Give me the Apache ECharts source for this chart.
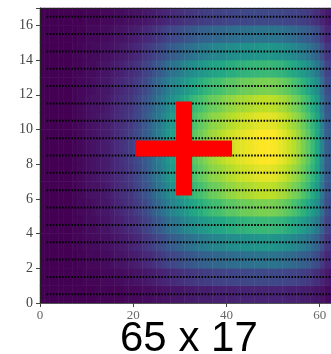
<!DOCTYPE html>
<html>
<head>
<meta charset="utf-8">
<script src="https://cdn.jsdelivr.net/npm/echarts@6/dist/echarts.min.js"></script>
<style>
  html, body { margin: 0; padding: 0; background: #fff; }
  #chart { width: 331px; height: 354px; }
</style>
</head>
<body>
<div id="chart"></div>
<script>
// grid size: 65 columns x 17 rows, values 0..100
const nCols = 65;
const nRows = 17;

// one array per row, bottom row first
const row0 = [0,0,0,0,0,0,0,0,0,0, 0,0,1,1,1,1,1,1,2,2, 2,2,3,3,4,4,5,5,6,6, 6,7,7,8,8,8,8,9,9,9, 9,9,10,10,10,10,10,10,10,10, 10,10,10,9,9,9,8,8,7,6, 5,3,3,3,2];
const row1 = [0,0,0,0,0,0,0,0,0,1, 1,1,1,2,2,2,3,3,4,4, 5,5,6,7,8,9,10,11,12,13, 14,15,16,17,17,18,18,19,19,20, 20,20,21,21,21,22,22,22,22,22, 22,21,21,20,20,19,18,17,15,13, 10,7,6,6,5];
const row2 = [0,0,0,0,0,0,0,0,1,1, 2,2,2,3,3,4,5,5,6,7, 8,9,11,12,14,16,18,20,21,23, 24,26,27,29,30,31,32,33,33,34, 35,35,36,36,37,37,38,38,38,38, 38,37,36,35,34,32,30,29,26,23, 17,11,11,10,9];
const row3 = [0,0,0,0,0,0,0,1,1,2, 2,3,3,4,4,5,6,7,8,9, 11,12,15,17,19,22,24,27,29,31, 33,35,37,39,41,42,44,45,46,47, 48,48,49,50,50,51,51,52,52,52, 51,50,49,48,46,44,42,39,35,31, 24,16,15,14,12];
const row4 = [0,0,0,0,0,0,0,1,1,2, 3,3,4,5,5,7,8,9,11,12, 14,16,19,21,25,28,31,35,38,40, 43,46,48,50,52,54,56,58,59,60, 62,62,64,64,65,66,66,67,67,67, 66,65,64,62,60,57,54,50,46,40, 31,20,19,17,16];
const row5 = [0,0,0,0,0,0,0,1,2,2, 3,4,5,6,6,8,10,11,13,14, 17,19,22,26,30,34,38,42,45,48, 51,54,58,60,62,65,67,69,70,72, 74,74,76,77,78,78,79,80,80,80, 79,78,76,74,71,68,64,60,54,48, 37,24,22,21,19];
const row6 = [0,0,0,0,0,0,0,1,2,3, 4,5,5,6,7,9,11,13,14,16, 19,22,25,29,33,38,42,47,50,54, 58,61,65,68,70,73,76,77,79,81, 83,84,86,86,87,88,89,90,90,90, 89,87,86,83,80,77,72,68,61,54, 41,27,25,23,22];
const row7 = [0,0,0,0,0,0,0,1,2,3, 4,5,6,7,8,10,12,13,15,17, 20,23,27,31,36,40,45,50,54,58, 61,65,69,72,75,78,81,83,84,86, 88,89,91,92,93,94,95,96,96,96, 95,93,91,88,85,82,77,72,65,58, 44,29,27,25,23];
const row8 = [0,0,0,0,0,0,0,1,2,3, 4,5,6,7,8,10,12,14,16,18, 21,24,28,32,37,42,47,52,56,60, 64,68,72,75,78,81,84,86,88,90, 92,93,95,96,97,98,99,100,100,100, 99,97,95,92,89,85,80,75,68,60, 46,30,28,26,24];
const row9 = [0,0,0,0,0,0,0,1,2,3, 4,5,6,7,8,10,12,14,16,18, 21,24,28,32,37,42,47,52,56,60, 64,68,72,75,78,81,84,86,88,90, 92,93,95,96,97,98,99,100,100,100, 99,97,95,92,89,85,80,75,68,60, 46,30,28,26,24];
const row10 = [0,0,0,0,0,0,0,1,2,3, 4,5,6,7,8,10,12,13,15,17, 20,23,27,31,36,40,45,50,54,58, 61,65,69,72,75,78,81,83,84,86, 88,89,91,92,93,94,95,96,96,96, 95,93,91,88,85,82,77,72,65,58, 44,29,27,25,23];
const row11 = [0,0,0,0,0,0,0,1,2,3, 4,5,5,6,7,9,11,13,14,16, 19,22,25,29,33,38,42,47,50,54, 58,61,65,68,70,73,76,77,79,81, 83,84,86,86,87,88,89,90,90,90, 89,87,86,83,80,77,72,68,61,54, 41,27,25,23,22];
const row12 = [0,0,0,0,0,0,0,1,2,2, 3,4,5,6,6,8,10,11,13,14, 17,19,22,26,30,34,38,42,45,48, 51,54,58,60,62,65,67,69,70,72, 74,74,76,77,78,78,79,80,80,80, 79,78,76,74,71,68,64,60,54,48, 37,24,22,21,19];
const row13 = [0,0,0,0,0,0,0,1,1,2, 3,3,4,5,5,7,8,9,11,12, 14,16,19,21,25,28,31,35,38,40, 43,46,48,50,52,54,56,58,59,60, 62,62,64,64,65,66,66,67,67,67, 66,65,64,62,60,57,54,50,46,40, 31,20,19,17,16];
const row14 = [0,0,0,0,0,0,0,1,1,2, 2,3,3,4,4,5,6,7,8,9, 11,12,15,17,19,22,24,27,29,31, 33,35,37,39,41,42,44,45,46,47, 48,48,49,50,50,51,51,52,52,52, 51,50,49,48,46,44,42,39,35,31, 24,16,15,14,12];
const row15 = [0,0,0,0,0,0,0,0,1,1, 2,2,2,3,3,4,5,5,6,7, 8,9,11,12,14,16,18,20,21,23, 24,26,27,29,30,31,32,33,33,34, 35,35,36,36,37,37,38,38,38,38, 38,37,36,35,34,32,30,29,26,23, 17,11,11,10,9];
const row16 = [0,0,0,0,0,0,0,0,0,1, 1,1,1,2,2,2,3,3,4,4, 5,5,6,7,8,9,10,11,12,13, 14,15,16,17,17,18,18,19,19,20, 20,20,21,21,21,22,22,22,22,22, 22,21,21,20,20,19,18,17,15,13, 10,7,6,6,5];

const rows = [row0, row1, row2, row3, row4, row5, row6, row7, row8, row9,
  row10, row11, row12, row13, row14, row15, row16];

// dotted guide lines through the row centres
const dotRows = [0.5, 1.5, 2.5, 3.5, 4.5, 5.5, 6.5, 7.5, 8.5, 9.5, 10.5, 11.5, 12.5, 13.5, 14.5, 15.5, 16.5];
const dotStart = 1.4;
const dotEnd = 65;

// red cross marker
const crossPoint = [30.9, 8.9];

const xTicks = [0, 20, 40, 60];
const yTicks = [0, 2, 4, 6, 8, 10, 12, 14, 16];
const title = '65 x 17';

const viridis = ['#440154', '#482475', '#414487', '#355f8d', '#2a788e', '#21918c',
  '#22a884', '#44bf70', '#7ad151', '#bddf26', '#fde725'];

const heatData = [];
rows.forEach((r, j) => {
  r.forEach((v, i) => heatData.push([i, j, v]));
});

const xCats = Array.from({ length: nCols }, (_, i) => i);
const yCats = Array.from({ length: nRows }, (_, j) => j);

const tickFont = '"Liberation Serif", "DejaVu Serif", serif';

const dotSeries = dotRows.map(y => ({
  type: 'line',
  xAxisIndex: 1,
  yAxisIndex: 1,
  data: [[dotStart, y], [dotEnd, y]],
  symbol: 'none',
  silent: true,
  z: 4,
  lineStyle: { color: '#000', width: 2, type: [1.6, 1.5] }
}));

const chart = echarts.init(document.getElementById('chart'));

chart.setOption({
  animation: false,
  // the plot runs past the right edge of the picture, so no clamping
  grid: { left: 40, top: 8, width: 303, height: 295, containLabel: false, outerBoundsMode: 'none' },
  visualMap: {
    show: false,
    type: 'continuous',
    min: 0,
    max: 100,
    seriesIndex: 0,
    inRange: { color: viridis }
  },
  xAxis: [
    { type: 'category', data: xCats, show: false },
    {
      type: 'value', min: 0, max: nCols, interval: 20, position: 'bottom', z: 10,
      splitLine: { show: false },
      axisLine: { show: true, lineStyle: { color: '#555', width: 1 } },
      axisTick: { show: true, length: 4, lineStyle: { color: '#444' } },
      axisLabel: {
        margin: 6, fontSize: 13, color: '#666', fontFamily: tickFont,
        formatter: v => (xTicks.includes(v) ? String(v) : '')
      }
    },
    {
      type: 'value', min: 0, max: nCols, position: 'top', z: 10,
      splitLine: { show: false }, axisTick: { show: false }, axisLabel: { show: false },
      axisLine: { show: true, lineStyle: { color: '#222', width: 1 } }
    }
  ],
  yAxis: [
    { type: 'category', data: yCats, show: false },
    {
      type: 'value', min: 0, max: nRows, interval: 2, position: 'left', z: 10,
      splitLine: { show: false },
      axisLine: { show: true, lineStyle: { color: '#222', width: 1 } },
      axisTick: { show: true, length: 4, lineStyle: { color: '#444' } },
      axisLabel: {
        margin: 7, fontSize: 14, color: '#444', fontFamily: tickFont,
        formatter: v => (yTicks.includes(v) ? String(v) : '')
      }
    }
  ],
  graphic: [
    {
      type: 'text',
      left: 120,
      top: 318,
      z: 100,
      style: { text: title, font: '42px "Liberation Sans", Arial, sans-serif', fill: '#000' }
    }
  ],
  series: [
    {
      type: 'heatmap',
      xAxisIndex: 0,
      yAxisIndex: 0,
      data: heatData,
      silent: true,
      z: 2
    },
    ...dotSeries,
    {
      type: 'scatter',
      xAxisIndex: 1,
      yAxisIndex: 1,
      data: [crossPoint],
      symbol: 'path://M40,0H56V39H96V55H56V94H40V55H0V39H40Z',
      symbolSize: [96, 94],
      silent: true,
      z: 6,
      itemStyle: { color: '#ff0000', opacity: 1 }
    }
  ]
});
</script>
</body>
</html>
